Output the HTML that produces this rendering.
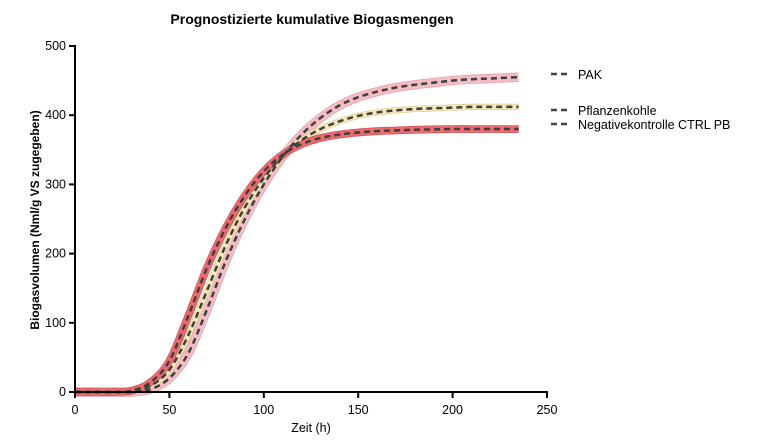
<!DOCTYPE html>
<html><head><meta charset="utf-8"><style>
body{margin:0;background:#fff;font-family:"Liberation Sans",sans-serif}
</style></head><body>
<svg id="chart" width="760" height="440" xmlns="http://www.w3.org/2000/svg" font-family="Liberation Sans, sans-serif">
<text x="312" y="24" text-anchor="middle" font-size="14" font-weight="bold">Prognostizierte kumulative Biogasmengen</text>
<text transform="translate(39,220) rotate(-90)" text-anchor="middle" font-size="12" font-weight="bold">Biogasvolumen (Nml/g VS zugegeben)</text>
<text x="311" y="432" text-anchor="middle" font-size="12.5">Zeit (h)</text>
<g id="plot"></g>
<g id="axes"></g>
<g>
<g><line x1="551" y1="74" x2="569" y2="74" stroke="#444" stroke-width="2.5" stroke-dasharray="6,4"/><text x="578" y="79" font-size="12.5">PAK</text></g>
<g><line x1="551" y1="110" x2="569" y2="110" stroke="#444" stroke-width="2.5" stroke-dasharray="6,4"/><text x="578" y="115" font-size="12.5">Pflanzenkohle</text></g>
<g><line x1="551" y1="124" x2="569" y2="124" stroke="#444" stroke-width="2.5" stroke-dasharray="6,4"/><text x="578" y="129" font-size="12.5">Negativekontrolle CTRL PB</text></g>
</g>
</svg>
<script>
const times=[0,10,20,30,40,50,60,70,80,90,100,110,120,130,140,150,160,170,180,190,200,210,220,235];
const pakValues=[0,0,0,0,4,20,56,120,190,250,300,340,372,396,414,426,434,440,444,447,450,452,453,455];
const pflanzenkohleValues=[0,0,0,1,9,32,82,147,213,267,309,341,364,380,391,399,404,407,409,410,411,412,412,412];
const controlValues=[0,0,0,2,14,45,110,180,238,284,319,343,358,367,372,375,377,378,379,379.5,380,380,380,380];
const xTicks=[0,50,100,150,200,250];
const yTicks=[0,100,200,300,400,500];
const NS="http://www.w3.org/2000/svg";
const X0=75,X1=547,Y0=392,Y1=46;
function xs(t){return X0+(t/250)*(X1-X0);}
function ys(v){return Y0-(v/500)*(Y0-Y1);}
const plot=document.getElementById('plot');
const axes=document.getElementById('axes');
function mk(tag,attrs,parent){const e=document.createElementNS(NS,tag);for(const k in attrs)e.setAttribute(k,attrs[k]);parent.appendChild(e);return e;}
function pathD(vals){
  const pts=times.map((t,i)=>[xs(t),ys(vals[i])]);
  let d='M'+pts[0][0]+','+pts[0][1];
  for(let i=0;i<pts.length-1;i++){
    const p0=pts[Math.max(0,i-1)],p1=pts[i],p2=pts[i+1],p3=pts[Math.min(pts.length-1,i+2)];
    const c1x=p1[0]+(p2[0]-p0[0])/6,c1y=p1[1]+(p2[1]-p0[1])/6;
    const c2x=p2[0]-(p3[0]-p1[0])/6,c2y=p2[1]-(p3[1]-p1[1])/6;
    d+=' C'+c1x+','+c1y+' '+c2x+','+c2y+' '+p2[0]+','+p2[1];
  }
  return d;
}
const series=[
  {name:'pak',vals:pakValues,band:'#f4bcc5',edge:'#dc98a3',w:8},
  {name:'pflanzenkohle',vals:pflanzenkohleValues,band:'#f6e9bb',edge:'#dcc98a',w:5},
  {name:'negative-control',vals:controlValues,band:'#ea6a6e',edge:'#cf4a50',w:6.5}
];
series.forEach(s=>{
  const d=pathD(s.vals);
  const e1=mk('path',{d:d,fill:'none',stroke:s.edge,'stroke-width':s.w+1.2,'stroke-linecap':'butt'},plot);
  
  
  const b=mk('path',{d:d,fill:'none',stroke:s.band,'stroke-width':s.w,'stroke-linecap':'butt'},plot);
  
  
});
series.forEach(s=>{
  const l=mk('path',{d:pathD(s.vals),fill:'none',stroke:'#3f3f3f','stroke-width':2.5,'stroke-dasharray':'6,4'},plot);
  
  
});
const xa=mk('line',{x1:X0,y1:Y0,x2:X1+1,y2:Y0,stroke:'#000','stroke-width':2},axes);


const ya=mk('line',{x1:X0,y1:Y0+1,x2:X0,y2:Y1-1,stroke:'#000','stroke-width':2},axes);


xTicks.forEach(t=>{
  const tk=mk('line',{x1:xs(t),y1:Y0,x2:xs(t),y2:Y0+6,stroke:'#000','stroke-width':2},axes);
  
  
  const tx=mk('text',{x:xs(t),y:Y0+22,'text-anchor':'middle','font-size':12.5},axes);
  tx.textContent=t;
  
  
});
yTicks.forEach(v=>{
  const tk=mk('line',{x1:X0-6,y1:ys(v),x2:X0,y2:ys(v),stroke:'#000','stroke-width':2},axes);
  
  
  const tx=mk('text',{x:X0-9,y:ys(v)+4,'text-anchor':'end','font-size':12.5},axes);
  tx.textContent=v;
  
  
});
</script>
</body></html>
